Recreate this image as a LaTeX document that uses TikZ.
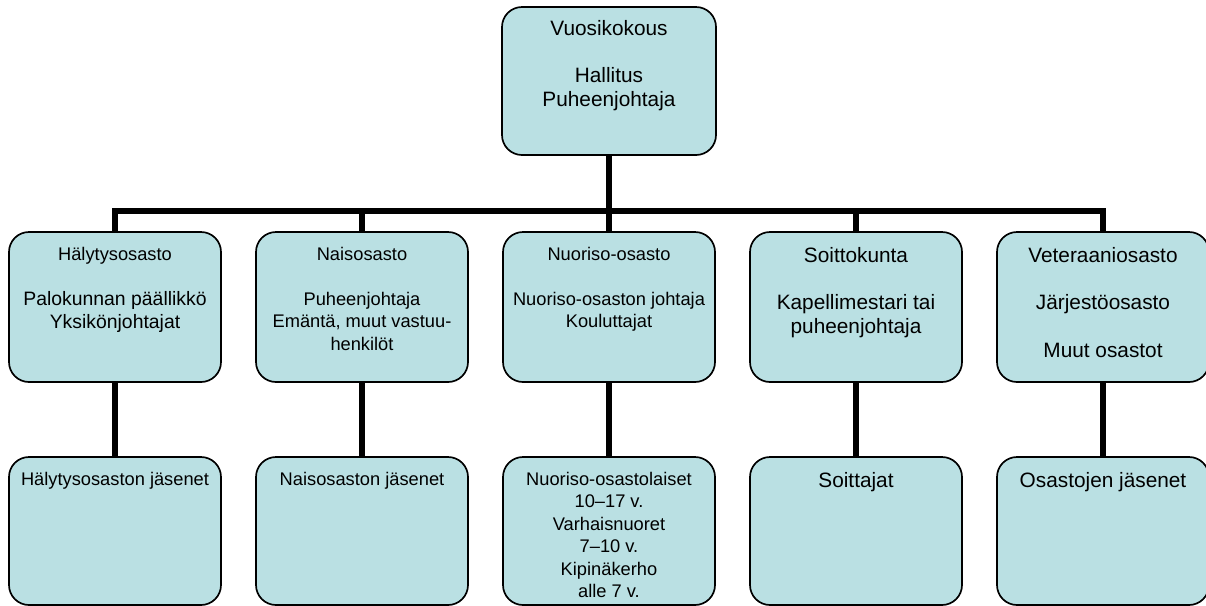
\documentclass[tikz,border=0pt]{standalone}
\usepackage{fontspec}
\setmainfont{Liberation Sans}
\usetikzlibrary{positioning}
\definecolor{unitblue}{RGB}{186,224,227}
\newcommand{\unittext}[2]{\parbox[c][#1][t]{5.1cm}{\centering #2}}
\newcommand{\fsmall}{\fontsize{13}{16}\selectfont}
\newcommand{\fmid}{\fontsize{13.8}{16.5}\selectfont}
\newcommand{\flarge}{\fontsize{14.8}{17}\selectfont}

\begin{document}
\begin{tikzpicture}[
    unit/.style={draw, line width=1.2pt, rounded corners=0.5cm, fill=unitblue, inner xsep=0pt, inner ysep=0.375cm, minimum width=5.3cm},
    link/.style={line width=4pt}]
            \useasboundingbox (0,0) rectangle (30.15,-15.15);
            % annual meeting and board (root)
            \node[unit, minimum width=5.35cm, inner ysep=0.325cm, font=\flarge] (board) at (15.225,-2.025) {\unittext{3.05cm}{Vuosikokous\\[\baselineskip]Hallitus\\Puheenjohtaja}};
            \coordinate (bus) at (15.225,-5.275);
            \draw[link] (board) -- (bus);
            % departments and their members
            \foreach \i/\cx/\fs/\head/\crew in {1/2.875/\fsmall/{Hälytysosasto\\[\baselineskip]{\fmid Palokunnan päällikkö\\Yksikönjohtajat}}/{Hälytysosaston jäsenet},
                    2/9.05/\fsmall/{Naisosasto\\[\baselineskip]Puheenjohtaja\\Emäntä, muut vastuu-\\henkilöt}/{Naisosaston jäsenet},
                    3/15.225/\fsmall/{Nuoriso-osasto\\[\baselineskip]Nuoriso-osaston johtaja\\Kouluttajat}/{Nuoriso-osastolaiset\\10–17 v.\\Varhaisnuoret\\7–10 v.\\Kipinäkerho\\alle 7 v.},
                    4/21.4/\flarge/{Soittokunta\\[\baselineskip]Kapellimestari tai\\puheenjohtaja}/{Soittajat},
                    5/27.575/\flarge/{Veteraaniosasto\\[\baselineskip]Järjestöosasto\\[\baselineskip]Muut osastot}/{Osastojen jäsenet}} {
                \node[unit, font=\fs] (dept\i) at (\cx,-7.675) {\unittext{3cm}{\head}};
                \node[unit, font=\fs] (crew\i) at (\cx,-13.275) {\unittext{2.95cm}{\crew}};
                \draw[link] (dept\i) |- (bus);
                \draw[link] (dept\i) -- (crew\i);
            }
        \end{tikzpicture}
\end{document}
